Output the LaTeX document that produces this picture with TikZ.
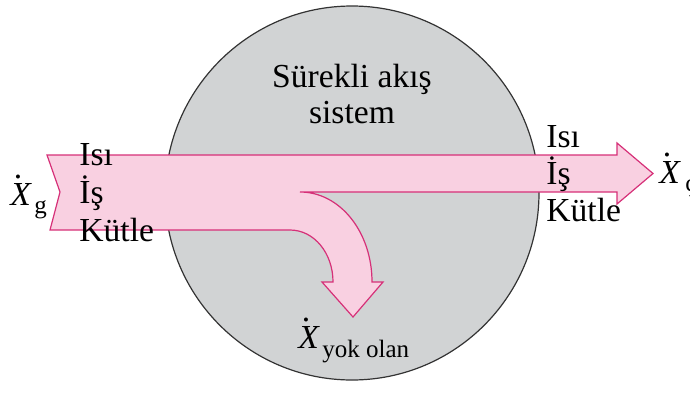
\documentclass[tikz,border=0pt]{standalone}
\usepackage{fontspec}
\setmainfont{Liberation Serif}
\definecolor{pinkfill}{RGB}{249,208,225}
\definecolor{pinkline}{RGB}{214,48,120}
\definecolor{sysgray}{RGB}{209,211,212}
\newcommand\xdotsym{\makebox[0pt][l]{\hspace{0.1em}\raisebox{0.8em}{\upshape.}}{\itshape X}}
\tikzset{
  lbl/.style={anchor=base west, inner sep=0pt, font=\fontsize{16.8}{18}\selectfont},
  ctr/.style={anchor=base, inner sep=0pt, font=\fontsize{16.8}{18}\selectfont},
  sub/.style={anchor=base west, inner sep=0pt, font=\fontsize{12.5}{14}\selectfont},
}
\begin{document}
\begin{tikzpicture}[x=0.5pt,y=-0.5pt]
\useasboundingbox (0,0) rectangle (690,392);
\node[circle, draw=black!80, line width=0.6pt, fill=sysgray, minimum size=187pt, inner sep=0pt] (sys) at (352,193) {};
\node[ctr] (t1) at (352,87) {Sürekli akış};
\node[ctr] (t2) at (352,123) {sistem};
\draw[pinkline, fill=pinkfill, line width=0.6pt, line join=miter]
  (47,155) -- (617,155) -- (617,143) -- (653,173.5) -- (617,204) -- (617,192)
  -- (300,192) .. controls (340,192) and (372,232) .. (372,282)
  -- (383,282) -- (353,317) -- (322,282) -- (333,282)
  .. controls (333,253) and (314,230) .. (290,230)
  -- (50,230) -- (60,192) -- cycle;
\node[lbl] (li) at (79,165) {Isı};
\node[lbl] (lw) at (79,203) {İş};
\node[lbl] (lk) at (79,241) {Kütle};
\node[lbl] (ri) at (546,147) {Isı};
\node[lbl] (rw) at (546,184) {İş};
\node[lbl] (rk) at (546,221) {Kütle};
\node[lbl] (xg) at (10,205) {\xdotsym};
\node[sub] (xgs) at (34,213) {g};
\node[lbl] (xc) at (659,183) {\xdotsym};
\node[sub] (xcs) at (685,191) {ç};
\node[lbl] (xy) at (298,348) {\xdotsym};
\node[sub] (xys) at (322,357) {yok olan};
\end{tikzpicture}
\end{document}
